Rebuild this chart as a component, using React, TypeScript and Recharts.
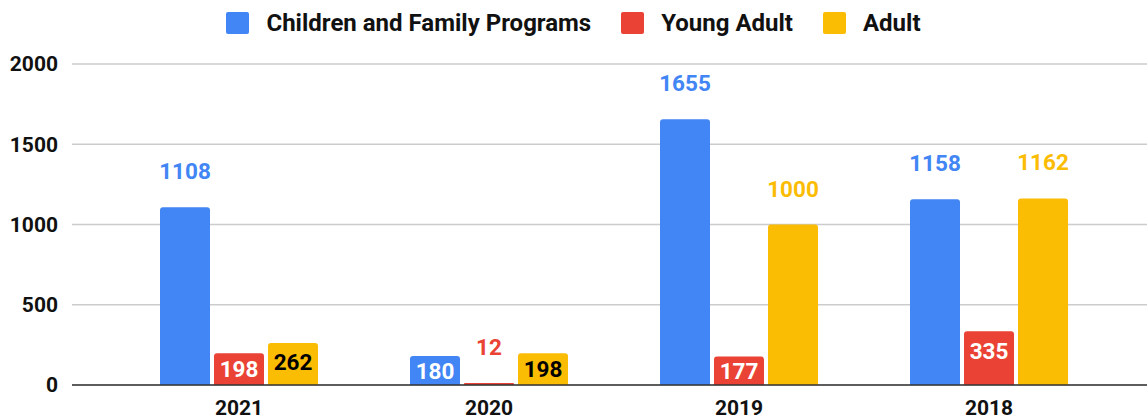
import { BarChart, Bar, CartesianGrid, XAxis, YAxis, Legend, LabelList } from 'recharts'

const categories = ['2021', '2020', '2019', '2018']
const childrenValues = [1108, 180, 1655, 1158]
const youngAdultValues = [198, 12, 177, 335]
const adultValues = [262, 198, 1000, 1162]
const yTicks = [0, 500, 1000, 1500, 2000]

const series = [
 { key: 'children', name: 'Children and Family Programs', color: '#4285F4', inside: '#ffffff' },
 { key: 'youngAdult', name: 'Young Adult', color: '#EA4335', inside: '#ffffff' },
 { key: 'adult', name: 'Adult', color: '#FBBC04', inside: '#000000' },
]

const data = categories.map((year, i) => ({
 year,
 children: childrenValues[i],
 youngAdult: youngAdultValues[i],
 adult: adultValues[i],
}))

const FONT = 'Roboto, "Noto Sans", sans-serif'

function makeLabel(color: string, insideColor: string) {
 return (props: any) => {
 const { x, y, width, height, value } = props
 const cx = Number(x) + Number(width) / 2
 const top = Number(y)
 const h = Number(height)
 // short-ish bars get the value inside, tall ones and tiny ones get it above
 const inside = Number(value) < 500 && h > 20
 const cy = inside ? Math.min(top + 19.5, top + h / 2) : top - 36
 return (
 <text x={cx} y={cy} textAnchor="middle" dominantBaseline="central"
 fill={inside ? insideColor : color} fontFamily={FONT} fontWeight={700} fontSize={22.5}>
 {value}
 </text>
 )
 }
}

function LegendContent() {
 return (
 <div style={{ display: 'flex', justifyContent: 'center', alignItems: 'center', height: 46, fontFamily: FONT }}>
 {series.map((s, i) => (
 <div key={s.key} style={{ display: 'flex', alignItems: 'center', marginLeft: i === 0 ? 0 : 30 }}>
 <span style={{ width: 23, height: 22, background: s.color, borderRadius: 2, display: 'inline-block' }} />
 <span style={{ marginLeft: 17, fontSize: 24, fontWeight: 700, color: '#111' }}>{s.name}</span>
 </div>
 ))}
 </div>
 )
}

export default function App() {
 return (
 <div style={{ position: 'absolute', left: 0, top: 0, background: '#fff' }}>
 <BarChart width={1147} height={419} data={data} margin={{ top: 64, right: 0, bottom: 4, left: 0 }}
 barSize={50} barGap={4}>
 <CartesianGrid vertical={false} stroke="#cccccc" strokeWidth={1.5} />
 <XAxis dataKey="year" height={30} padding={{ left: 42, right: 33 }} tickLine={false} tickSize={0} tickMargin={15}
 axisLine={{ stroke: '#333333', strokeWidth: 1.5 }}
 tick={{ fill: '#111', fontSize: 21, fontWeight: 700, fontFamily: FONT }} />
 <YAxis domain={[0, 2000]} ticks={yTicks} width={72} axisLine={false} tickLine={false} tickSize={0} tickMargin={14}
 tick={{ fill: '#111', fontSize: 21, fontWeight: 700, fontFamily: FONT }} />
 <Legend layout="horizontal" verticalAlign="middle" align="center" content={<LegendContent />}
 wrapperStyle={{ top: 0, left: 0, width: 1147 }} />
 {series.map((s) => (
 <Bar key={s.key} dataKey={s.key} name={s.name} fill={s.color} radius={[3, 3, 0, 0]} isAnimationActive={false}>
 <LabelList dataKey={s.key} content={makeLabel(s.color, s.inside)} />
 </Bar>
 ))}
 </BarChart>
 </div>
 )
}
